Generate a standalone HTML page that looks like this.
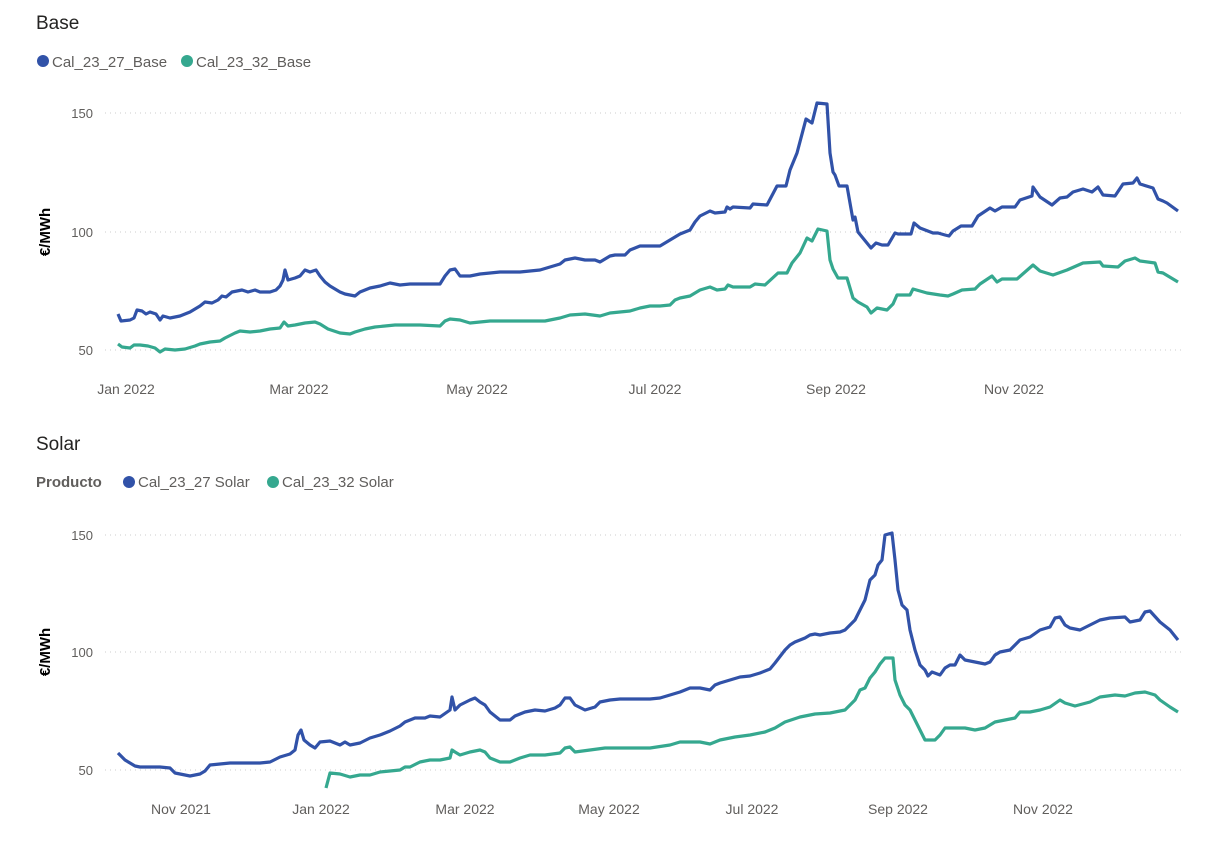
<!DOCTYPE html>
<html><head><meta charset="utf-8"><style>
body{margin:0;background:#fff;width:1219px;height:844px;overflow:hidden;font-family:"Liberation Sans",sans-serif}
</style></head><body>
<svg width="1219" height="844" xmlns="http://www.w3.org/2000/svg" font-family="Liberation Sans, sans-serif">
<text x="36" y="29" font-size="19" fill="#252423">Base</text>
<circle cx="43" cy="61" r="6" fill="#3152A8"/>
<text x="52" y="67" font-size="15" fill="#605E5C">Cal_23_27_Base</text>
<circle cx="187" cy="61" r="6" fill="#35A88F"/>
<text x="196" y="67" font-size="15" fill="#605E5C">Cal_23_32_Base</text>
<g stroke="#ccc" stroke-dasharray="1,4" stroke-width="1">
<line x1="105" y1="113" x2="1185" y2="113"/><line x1="105" y1="232" x2="1185" y2="232"/><line x1="105" y1="350" x2="1185" y2="350"/>
<line x1="105" y1="535" x2="1185" y2="535"/><line x1="105" y1="652" x2="1185" y2="652"/><line x1="105" y1="770" x2="1185" y2="770"/>
</g>
<g font-size="13" fill="#605E5C" text-anchor="end">
<text x="93" y="118">150</text><text x="93" y="237">100</text><text x="93" y="355">50</text>
<text x="93" y="540">150</text><text x="93" y="657">100</text><text x="93" y="775">50</text>
</g>
<text transform="translate(50,232) rotate(-90)" font-size="15" font-weight="bold" text-anchor="middle" fill="#000">€/MWh</text>
<text transform="translate(50,652) rotate(-90)" font-size="15" font-weight="bold" text-anchor="middle" fill="#000">€/MWh</text>
<g font-size="14" fill="#605E5C" text-anchor="middle">
<text x="126" y="394">Jan 2022</text><text x="299" y="394">Mar 2022</text><text x="477" y="394">May 2022</text><text x="655" y="394">Jul 2022</text><text x="836" y="394">Sep 2022</text><text x="1014" y="394">Nov 2022</text>
<text x="181" y="814">Nov 2021</text><text x="321" y="814">Jan 2022</text><text x="465" y="814">Mar 2022</text><text x="609" y="814">May 2022</text><text x="752" y="814">Jul 2022</text><text x="898" y="814">Sep 2022</text><text x="1043" y="814">Nov 2022</text>
</g>
<text x="36" y="450" font-size="19" fill="#252423">Solar</text>
<text x="36" y="487" font-size="15" font-weight="bold" fill="#605E5C">Producto</text>
<circle cx="129" cy="482" r="6" fill="#3152A8"/>
<text x="138" y="487" font-size="15" fill="#605E5C">Cal_23_27 Solar</text>
<circle cx="273" cy="482" r="6" fill="#35A88F"/>
<text x="282" y="487" font-size="15" fill="#605E5C">Cal_23_32 Solar</text>
<g fill="none" stroke-width="3.2" stroke-linejoin="round">
<polyline stroke="#3152A8" points="118,314 121,321 130,320 134,318 137,310 142,311 146,314 150,312 156,314 160,320 163,316 170,318 180,316 190,312 200,306 205,302 212,303 218,300 222,296 226,297 232,292 237,291 242,290 248,292 255,290 260,292 270,292 276,290 280,286 283,280 285,270 288,280 295,278 300,276 305,270 310,272 316,270 320,276 325,282 330,286 340,292 345,294 355,296 360,292 370,288 380,286 390,283 400,285 410,284 420,284 430,284 440,284 445,276 450,270 455,269 460,276 470,276 480,274 490,273 500,272 510,272 520,272 530,271 540,270 550,267 560,264 565,260 575,258 585,260 595,260 600,262 610,256 615,255 625,255 630,250 640,246 650,246 660,246 665,243 670,240 680,234 690,230 695,222 700,216 710,211 715,213 725,212 727,207 730,209 733,207 750,208 753,204 767,205 777,186 786,186 790,170 797,153 806,119 812,123 817,103 827,104 830,153 833,172 835,175 839,186 847,186 853,220 855,217 858,232 871,248 876,243 882,245 888,245 895,233 898,234 911,234 914,223 920,228 933,233 938,233 945,235 949,236 953,231 961,226 972,226 978,216 990,208 995,211 1002,207 1015,207 1020,200 1032,196 1033,187 1040,197 1052,205 1060,198 1067,197 1073,192 1083,189 1092,192 1098,187 1103,195 1115,196 1123,184 1133,183 1137,178 1140,184 1153,188 1158,199 1163,201 1167,203 1178,211"/>
<polyline stroke="#35A88F" points="118,344 122,347 130,348 134,345 140,345 148,346 155,348 160,352 165,349 175,350 185,349 195,346 200,344 210,342 220,341 225,338 235,333 240,331 250,332 260,331 270,329 280,328 284,322 288,326 295,325 305,323 315,322 320,324 328,329 340,333 350,334 355,332 365,329 375,327 385,326 395,325 410,325 420,325 440,326 445,321 450,319 460,320 470,323 490,321 510,321 530,321 545,321 560,318 570,315 585,314 600,316 610,313 620,312 630,311 640,308 650,306 660,306 670,305 675,300 680,298 690,296 700,290 710,287 717,290 725,289 728,285 733,287 750,287 755,284 765,285 778,273 787,273 792,263 800,253 807,238 812,241 818,229 827,231 830,260 833,269 838,278 847,278 853,298 858,302 867,307 871,313 877,308 887,310 893,304 897,295 910,295 913,289 927,293 940,295 948,296 953,294 962,290 975,289 980,284 992,276 997,282 1002,279 1017,279 1033,265 1040,271 1053,275 1067,270 1083,263 1100,262 1103,266 1118,267 1125,261 1135,258 1140,261 1155,263 1158,272 1163,273 1178,282"/>
<polyline stroke="#3152A8" points="118,753 125,760 130,763 135,766 140,767 150,767 160,767 170,768 175,773 185,775 190,776 200,774 205,771 210,765 220,764 230,763 240,763 250,763 260,763 270,762 280,757 290,754 295,750 298,735 301,730 304,740 310,745 315,748 320,742 330,741 340,745 345,742 350,745 360,743 370,738 380,735 390,731 400,726 405,722 410,720 415,718 425,718 430,716 440,717 450,710 452,697 455,710 460,705 470,700 475,698 480,702 485,705 490,712 500,720 510,720 515,716 525,712 535,710 545,711 555,708 560,705 565,698 570,698 575,705 585,710 595,707 600,702 610,700 620,699 635,699 650,699 660,698 670,695 680,692 690,688 700,688 710,690 715,685 720,683 730,680 740,677 750,676 760,673 770,669 775,663 785,650 790,645 795,642 800,640 805,638 810,635 815,634 820,635 830,633 840,632 845,630 850,625 855,620 860,610 865,600 870,580 875,575 878,565 882,560 885,535 892,533 895,560 898,590 902,605 907,610 910,630 915,650 920,665 925,670 928,676 932,672 940,675 945,668 950,665 955,665 960,655 965,660 975,662 985,664 990,662 995,655 1000,652 1010,650 1020,640 1030,637 1040,630 1050,627 1055,618 1060,617 1065,625 1070,628 1080,630 1090,625 1100,620 1110,618 1125,617 1130,622 1140,620 1145,612 1150,611 1160,622 1170,630 1178,640"/>
<polyline stroke="#35A88F" points="326,788 330,773 340,774 350,777 360,775 370,775 380,772 390,771 400,770 405,767 410,767 420,762 430,760 440,760 450,758 452,750 455,752 460,755 470,752 480,750 485,752 490,758 500,762 510,762 520,758 530,755 545,755 560,753 565,748 570,747 575,752 590,750 605,748 630,748 650,748 670,745 680,742 700,742 710,744 720,740 735,737 750,735 765,732 775,728 785,722 800,717 815,714 830,713 845,710 850,705 855,700 860,690 865,688 870,678 875,672 880,664 885,658 893,658 895,680 900,695 905,705 910,710 915,720 920,730 925,740 935,740 940,735 945,728 955,728 965,728 975,730 985,728 995,722 1005,720 1015,718 1020,712 1030,712 1040,710 1050,707 1060,700 1065,703 1075,706 1090,702 1100,697 1115,695 1125,696 1135,693 1145,692 1155,695 1160,700 1170,707 1178,712"/>
</g>
</svg>
</body></html>
